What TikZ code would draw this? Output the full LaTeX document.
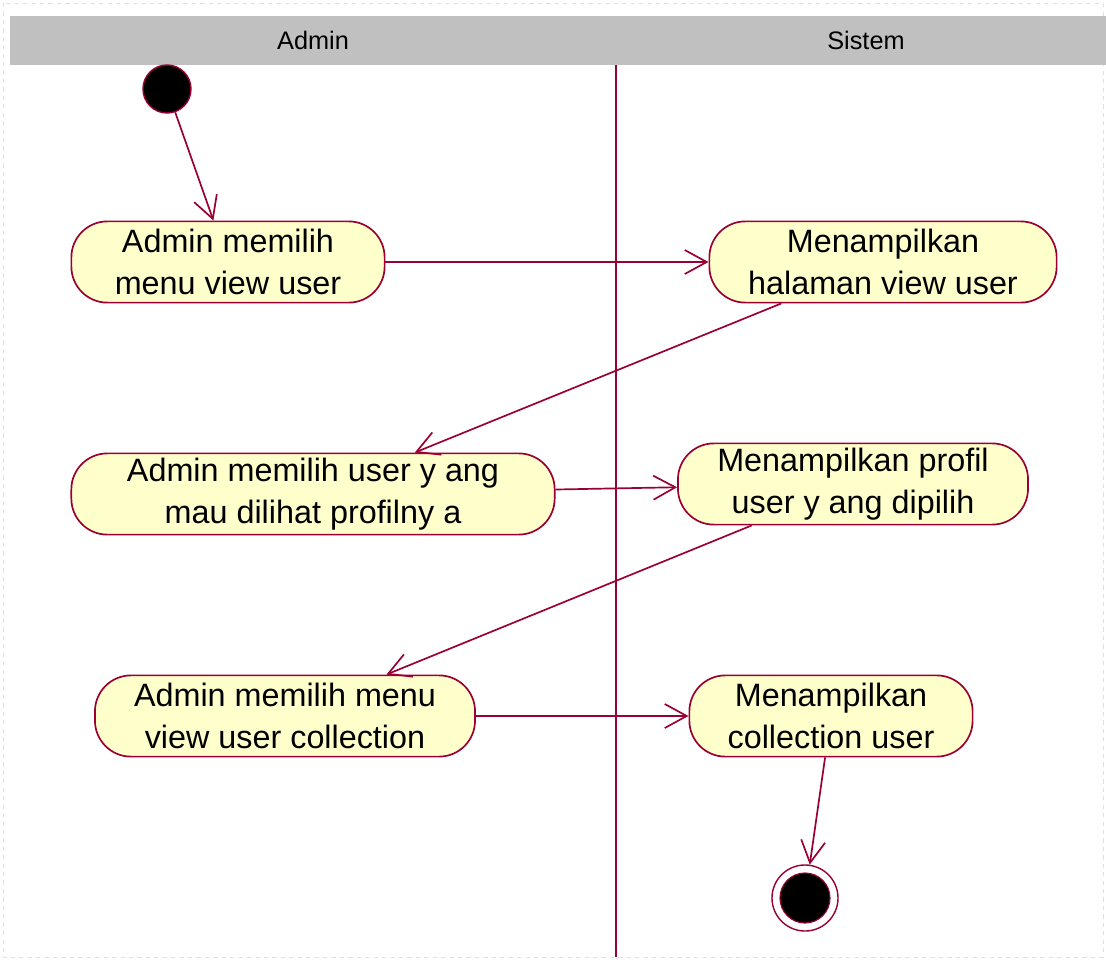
\documentclass[tikz,border=0pt]{standalone}
\usepackage{fontspec}
\setmainfont{Liberation Sans}
\usepackage{tikz}
\usetikzlibrary{arrows.meta}

\definecolor{rosered}{RGB}{153,0,51}
\definecolor{roseyellow}{RGB}{255,255,204}
\definecolor{lanegray}{RGB}{192,192,192}

\tikzset{
  activity/.style={draw=rosered, fill=roseyellow, line width=1.2pt, rounded corners=0.9cm,
    minimum height=2.03cm, inner sep=1pt, align=center, font=\fontsize{23}{30}\selectfont},
  initial/.style={circle, draw=rosered, fill=black, line width=1pt, minimum size=1.2cm, inner sep=0pt},
  final/.style={circle, draw=rosered, fill=white, line width=1pt, minimum size=1.65cm, inner sep=0pt},
  finaldot/.style={circle, draw=rosered, fill=black, line width=0.8pt, minimum size=1.25cm, inner sep=0pt},
  flow/.style={draw=rosered, line width=1.2pt, -{Straight Barb[length=0.55cm, width=0.6cm]}},
  lanetitle/.style={font=\fontsize{18}{20}\selectfont}
}

\begin{document}
\begin{tikzpicture}[x=0.025cm, y=-0.025cm]
        \useasboundingbox (0,0) rectangle (1106,960);
        \draw[black!12, dashed] (3,3) rectangle (1103,957);

        % Draw swimlanes
        \fill[lanegray] (10,16) rectangle (1106,65);
        \node[lanetitle] (hAdmin) at (313,40) {Admin};
        \node[lanetitle] (hSistem) at (866,40) {Sistem};
        \draw[rosered, line width=1.2pt] (616,65) -- (616,957);

        % Draw states
        \node[initial] (start) at (167,89) {};
        \node[activity, minimum width=7.83cm] (A1) at (228,262) {Admin memilih\\menu view user};
        \node[activity, minimum width=8.68cm] (S1) at (883,262) {Menampilkan\\halaman view user};
        \node[activity, minimum width=12.08cm] (A2) at (313,494) {Admin memilih user y ang\\mau dilihat profilny a};
        \node[activity, minimum width=8.75cm] (S2) at (853,484) {Menampilkan profil\\user y ang dipilih};
        \node[activity, minimum width=9.5cm] (A3) at (285,716) {Admin memilih menu\\view user collection};
        \node[activity, minimum width=7.08cm] (S3) at (831,716) {Menampilkan\\collection user};
        \node[final] (end) at (805,898) {};
        \node[finaldot] (enddot) at (end) {};

        % Draw flows
        \draw[flow] (start) -- (A1);
        \draw[flow] (A1) -- (S1);
        \draw[flow] (S1) -- (A2);
        \draw[flow] (A2) -- (S2);
        \draw[flow] (S2) -- (A3);
        \draw[flow] (A3) -- (S3);
        \draw[flow] (S3) -- (end);
      \end{tikzpicture}
\end{document}
